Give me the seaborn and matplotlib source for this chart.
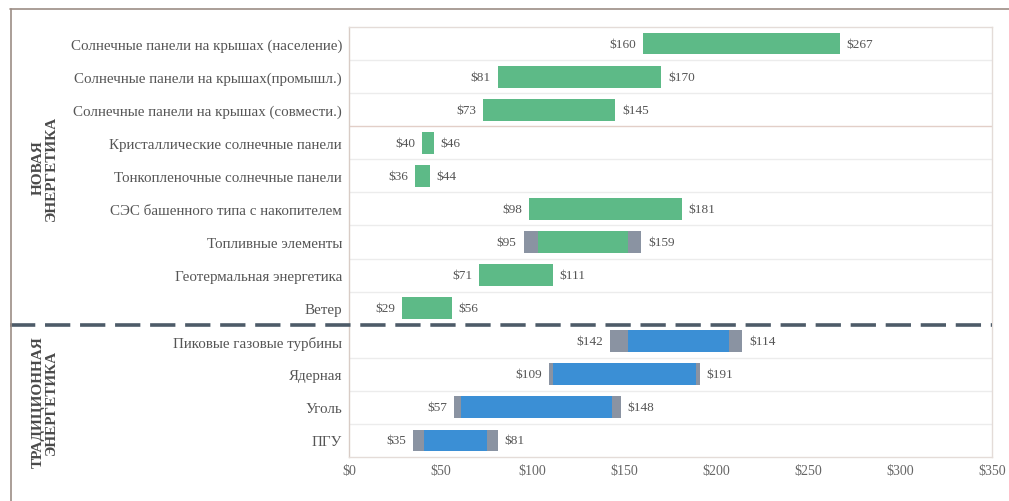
import matplotlib
matplotlib.use("Agg")
import matplotlib.pyplot as plt
from matplotlib.lines import Line2D
import seaborn as sns
import pandas as pd

# Levelized cost ranges, $/MWh
technologies = [
    "Солнечные панели на крышах (население)",
    "Солнечные панели на крышах(промышл.)",
    "Солнечные панели на крышах (совмести.)",
    "Кристаллические солнечные панели",
    "Тонкопленочные солнечные панели",
    "СЭС башенного типа с накопителем",
    "Топливные элементы",
    "Геотермальная энергетика",
    "Ветер",
    "Пиковые газовые турбины",
    "Ядерная",
    "Уголь",
    "ПГУ",
]
groups = ["new"] * 9 + ["traditional"] * 4

low_cost = [160, 81, 73, 40, 36, 98, 95, 71, 29, 142, 109, 57, 35]
high_cost = [267, 170, 145, 46, 44, 181, 159, 111, 56, 214, 191, 148, 81]
# inner (core) range; outside of it the bar is drawn in grey
core_low = [160, 81, 73, 40, 36, 98, 103, 71, 29, 152, 111, 61, 41]
core_high = [267, 170, 145, 46, 44, 181, 152, 111, 56, 207, 189, 143, 75]

low_labels = ["$160", "$81", "$73", "$40", "$36", "$98", "$95", "$71", "$29",
              "$142", "$109", "$57", "$35"]
high_labels = ["$267", "$170", "$145", "$46", "$44", "$181", "$159", "$111", "$56",
               "$114", "$191", "$148", "$81"]

x_ticks = [0, 50, 100, 150, 200, 250, 300, 350]
x_tick_labels = ["$0", "$50", "$100", "$150", "$200", "$250", "$300", "$350"]

group_titles = {"new": "НОВАЯ\nЭНЕРГЕТИКА", "traditional": "ТРАДИЦИОННАЯ\nЭНЕРГЕТИКА"}

GREEN = "#5dba87"
BLUE = "#3b8fd5"
GREY = "#8a93a2"
TEXT = "#555555"

df = pd.DataFrame({
    "name": technologies,
    "group": groups,
    "low": low_cost,
    "high": high_cost,
    "core_low": core_low,
    "core_high": core_high,
})
df["span"] = df["high"] - df["low"]
df["core_span"] = df["core_high"] - df["core_low"]

sns.set_theme(style="white")
plt.rcParams["font.family"] = ["Liberation Serif", "DejaVu Serif"]

fig = plt.figure(figsize=(10.09, 5.02), dpi=100)
W, H = 1009, 502
ax = fig.add_axes([349 / W, 1 - 458 / H, (992 - 349) / W, (458 - 28) / H])

bar_h = 0.66
# full range in grey
sns.barplot(data=df, x="span", y="name", left=df["low"], color=GREY,
            saturation=1, errorbar=None, width=bar_h, order=technologies,
            linewidth=0, ax=ax, zorder=3)
# core range coloured by group
for grp, col in (("new", GREEN), ("traditional", BLUE)):
    sub = df[df["group"] == grp]
    sns.barplot(data=sub, x="core_span", y="name", left=sub["core_low"].values,
                color=col, saturation=1, errorbar=None, width=bar_h,
                order=technologies, linewidth=0, ax=ax, zorder=4)

ax.set_xlim(0, 350)
ax.set_ylim(len(technologies) - 0.5, -0.5)
ax.set_xticks(x_ticks)
ax.set_xticklabels(x_tick_labels)
ax.set_xlabel("")
ax.set_ylabel("")
ax.tick_params(axis="x", length=0, pad=5, labelsize=10, labelcolor="#666666")
ax.tick_params(axis="y", length=0, pad=5, labelsize=10.8, labelcolor=TEXT)

for side, sp in ax.spines.items():
    sp.set_visible(True)
    sp.set_color("#e4dcd8")
    sp.set_linewidth(1)
ax.spines["left"].set_color("#d8ccc6")

# row separators
for i in range(len(technologies) - 1):
    y = i + 0.5
    if i == 8:
        continue
    color = "#e2cfc8" if i == 2 else "#ececec"
    ax.axhline(y, color=color, lw=1, zorder=1)

# group divider, extending to the left frame
ax.axhline(8.5, xmin=(10 - 349) / (992 - 349), xmax=1.0, color="#4d5b68",
           lw=2.6, dashes=(7, 2.7), clip_on=False, zorder=5)

# value labels
for i, row in df.iterrows():
    ax.annotate(low_labels[i], (row["low"], i), xytext=(-5, 0),
                textcoords="offset points", ha="right", va="center",
                fontsize=9.5, color=TEXT)
    ax.annotate(high_labels[i], (row["high"], i), xytext=(5, 0),
                textcoords="offset points", ha="left", va="center",
                fontsize=9.5, color=TEXT)

# group titles
fig.text(45 / W, 1 - 168 / H, group_titles["new"], rotation=90, ha="center",
         va="center", fontsize=11, fontweight="bold", color="#4a4a4a",
         linespacing=1.05)
fig.text(45 / W, 1 - 402 / H, group_titles["traditional"], rotation=90,
         ha="center", va="center", fontsize=11, fontweight="bold",
         color="#4a4a4a", linespacing=1.05)

# outer frame (top and left edges)
fig.add_artist(Line2D([10 / W, 1.0], [1 - 10 / H, 1 - 10 / H],
                      color="#9c8d85", lw=1.2))
fig.add_artist(Line2D([11 / W, 11 / W], [0.0, 1 - 10 / H],
                      color="#9c8d85", lw=1.2))

fig.savefig("out.png", dpi=100, facecolor="white")
